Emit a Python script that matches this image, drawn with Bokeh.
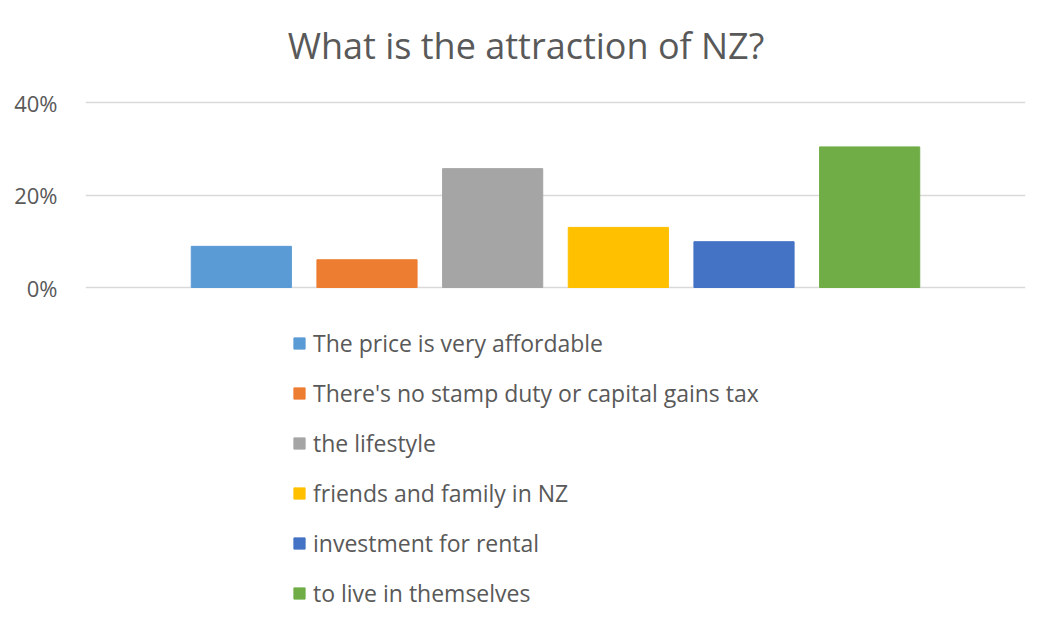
from bokeh.plotting import figure
from bokeh.models import ColumnDataSource, Legend, LegendItem, FixedTicker, NumeralTickFormatter, Range1d, Label
from bokeh.embed import file_html
from bokeh.resources import INLINE

categories = ["The price is very affordable",
              "There's no stamp duty or capital gains tax",
              "the lifestyle",
              "friends and family in NZ",
              "investment for rental",
              "to live in themselves"]
values = [0.089, 0.060, 0.257, 0.130, 0.099, 0.304]
colors = ["#5b9bd5", "#ed7d31", "#a5a5a5", "#ffc000", "#4472c4", "#70ad47"]
y_ticks = [0, 0.2, 0.4]
title_text = "What is the attraction of NZ?"

FONT = "Open Sans"
TXT = "#595959"

W, H = 1034, 618
LEFT, RIGHT = 85, 9
TOP_PX, ZERO_PX = 102, 287          # canvas px of the 40% and 0% gridlines
per_px = 0.4 / (ZERO_PX - TOP_PX)
y_end = 0.4 + TOP_PX * per_px
y_start = -(H - ZERO_PX) * per_px

src = ColumnDataSource(dict(x=list(range(len(categories))), top=values, color=colors, label=categories))

p = figure(width=W, height=H, output_backend="svg", toolbar_location=None,
           x_range=Range1d(-1.24, 6.24), y_range=Range1d(y_start, y_end),
           min_border_left=LEFT, min_border_right=RIGHT, min_border_top=0, min_border_bottom=0)
p.outline_line_color = None

r = p.vbar(x="x", top="top", bottom=0, width=0.797, color="color", source=src)

p.xaxis.visible = False
p.xgrid.visible = False
p.yaxis.ticker = FixedTicker(ticks=y_ticks)
p.yaxis.formatter = NumeralTickFormatter(format="0%")
p.yaxis.axis_line_color = None
p.yaxis.major_tick_line_color = None
p.yaxis.major_tick_out = 0
p.yaxis.major_tick_in = 0
p.yaxis.minor_tick_line_color = None
p.yaxis.major_label_standoff = 28
p.yaxis.major_label_text_font = FONT
p.yaxis.major_label_text_font_size = "22px"
p.yaxis.major_label_text_color = TXT
p.ygrid.grid_line_color = "#d9d9d9"
p.ygrid.grid_line_width = 1.5

title_y = 0.4 + (TOP_PX - 45) * per_px
p.add_layout(Label(x=2.265, y=title_y, text=title_text, text_align="center", text_baseline="middle",
                   text_font=FONT, text_font_size="36px", text_color=TXT))

items = [LegendItem(label=c, renderers=[r], index=i) for i, c in enumerate(categories)]
legend = Legend(items=items, orientation="vertical", location=(207, 9),
                glyph_width=14, glyph_height=14, label_height=20, spacing=18,
                label_standoff=7, padding=0, margin=0,
                border_line_color=None, background_fill_alpha=0,
                label_text_font=FONT, label_text_font_size="23px", label_text_color=TXT)
p.add_layout(legend, "center")

open("out.html", "w").write(file_html(p, INLINE))
